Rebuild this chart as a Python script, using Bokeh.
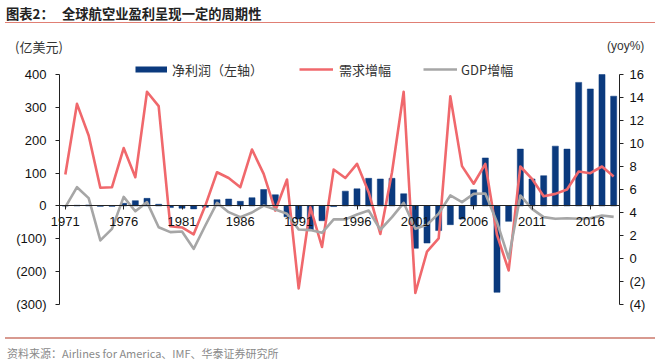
from bokeh.plotting import figure
from bokeh.layouts import column
from bokeh.models import (Range1d, LinearAxis, FixedTicker, Legend,
                          LegendItem, ColumnDataSource, Div)
from bokeh.embed import file_html
from bokeh.resources import INLINE

# ---------------- data ----------------
years = list(range(1971, 2019))
net_profit = [0, 2, 3, -1, -1, 8, 16, 23, 5, -5,
              -7, -9, -4, 19, 21, 14, 25, 50, 34, -33,
              -40, -75, -45, -2, 45, 52, 84, 82, 84, 37,
              -129, -113, -75, -57, -40, 49, 146, -263, -47, 173,
              82, 92, 182, 173, 376, 356, 400, 334]
demand_growth = [7.3, 13.45, 10.7, 6.15, 6.2, 9.6, 7.07, 14.5, 13.25, 2.8,
                 2.7, 2.1, 4.6, 7.5, 7.0, 6.2, 9.48, 7.36, 4.17, 6.87,
                 -2.6, 4.46, 1.0, 7.74, 7.0, 8.23, 5.77, 2.14, 7.5, 14.5,
                 -3.0, 0.6, 1.75, 14.1, 8.03, 6.5, 8.23, 2.05, -1.04, 8.0,
                 6.93, 5.42, 5.62, 6.0, 7.57, 7.42, 8.0, 7.13]
gdp_growth = [4.46, 6.2, 5.25, 1.57, 2.58, 5.36, 4.11, 4.9, 2.72, 2.29,
              2.35, 0.84, 2.87, 4.84, 4.03, 3.6, 4.0, 4.6, 4.26, 3.9,
              2.52, 2.47, 2.23, 3.4, 3.4, 3.83, 4.17, 2.5, 3.6, 4.84,
              2.58, 2.93, 3.9, 5.48, 4.9, 5.62, 5.65, 3.16, 0.0, 5.48,
              4.32, 3.6, 3.45, 3.5, 3.45, 3.5, 3.74, 3.62]
x_ticks = [1971, 1976, 1981, 1986, 1991, 1996, 2001, 2006, 2011, 2016]
left_ticks = [-300, -200, -100, 0, 100, 200, 300, 400]
right_ticks = [-4, -2, 0, 2, 4, 6, 8, 10, 12, 14, 16]

title_prefix = "图表2："
title_text = "全球航空业盈利呈现一定的周期性"
left_unit = "(亿美元)"
right_unit = "(yoy%)"
series_names = ["净利润（左轴）", "需求增幅", "GDP增幅"]
source_text = "资料来源：Airlines for America、IMF、华泰证券研究所"

# ---------------- style / layout ----------------
NAVY = "#0B3A7E"
RED = "#F0686C"
GRAY = "#A6A6A6"
SALMON = "#E07F74"
CJK = "Noto Sans CJK SC"
LAT = "Liberation Sans"

W = 660
TOP_H = 56          # header block height
FRAME_L, FRAME_R = 59, 619
FRAME_T, FRAME_B = 74, 304     # where 400 / -300 sit on the page
BOT_BORDER = 27
FIG_H = FRAME_B + BOT_BORDER - TOP_H
BOT_H = 362 - TOP_H - FIG_H
ZERO_Y = 205.3                 # page y of the zero line

L_MIN, L_MAX = -300, 400
R_MIN, R_MAX = -4, 16
px_per_l = (FRAME_B - FRAME_T) / (L_MAX - L_MIN)
px_per_r = (FRAME_B - FRAME_T) / (R_MAX - R_MIN)
extra_px = FRAME_T - TOP_H     # frame extends up to the header for the legend


def nfmt(v):
    return f"({abs(v)})" if v < 0 else f"{v}"


src = ColumnDataSource(dict(year=years, profit=net_profit,
                            demand=demand_growth, gdp=gdp_growth))

p = figure(width=W, height=FIG_H, output_backend="svg", toolbar_location=None,
           x_range=Range1d(1970.5, 2018.5),
           y_range=Range1d(L_MIN, L_MAX + extra_px / px_per_l),
           min_border_left=FRAME_L, min_border_right=W - FRAME_R,
           min_border_top=0, min_border_bottom=BOT_BORDER,
           background_fill_color="white", border_fill_color="white",
           margin=0)
p.outline_line_color = None
p.xgrid.visible = False
p.ygrid.visible = False
p.extra_y_ranges = {"r": Range1d(R_MIN, R_MAX + extra_px / px_per_r)}


def style_axis(ax, standoff):
    ax.minor_tick_line_color = None
    ax.major_tick_in = 0
    ax.major_tick_out = 4
    ax.major_label_standoff = standoff
    ax.axis_line_color = "#222222"
    ax.major_tick_line_color = "#222222"
    ax.major_label_text_font = LAT
    ax.major_label_text_font_size = "13px"
    ax.major_label_text_color = "#111111"


# x axis labels: a normal bottom axis whose labels are lifted up to the zero line
xa = p.xaxis[0]
xa.ticker = FixedTicker(ticks=x_ticks)
style_axis(xa, 0)
xa.axis_line_color = None
xa.major_tick_line_color = None
xa.major_tick_out = 0
xa.major_label_standoff = int(round(ZERO_Y + 11 - FRAME_B))

# zero line with its ticks (no labels)
xz = LinearAxis(ticker=FixedTicker(ticks=x_ticks), fixed_location=0)
style_axis(xz, 0)
xz.major_label_text_font_size = "1px"
xz.major_label_text_color = None
p.add_layout(xz, "below")

# left axis
ya = p.yaxis[0]
ya.ticker = FixedTicker(ticks=left_ticks)
ya.major_label_overrides = {v: nfmt(v) for v in left_ticks}
ya.bounds = (L_MIN, L_MAX)
style_axis(ya, 9)

# right axis
ra = LinearAxis(y_range_name="r", ticker=FixedTicker(ticks=right_ticks),
                bounds=(R_MIN, R_MAX))
ra.major_label_overrides = {v: nfmt(v) for v in right_ticks}
style_axis(ra, 6)
p.add_layout(ra, "right")

# glyphs
bars = p.vbar(x="year", top="profit", width=0.52, source=src,
              fill_color=NAVY, line_color=NAVY, line_width=0.5)
r_red = p.line("year", "demand", source=src, y_range_name="r",
               line_color=RED, line_width=2.6, line_join="round")
r_gray = p.line("year", "gdp", source=src, y_range_name="r",
                line_color=GRAY, line_width=2.6, line_join="round")
# legend swatch for the bars (NaN values: nothing is drawn in the plot)
swatch = p.line(x=years[:2], y=[float("nan")] * 2, line_color=NAVY,
                line_width=6)

# legends (one per item to match the reference spacing)
LEG_H = 20
leg_vy = FRAME_B - (69 + LEG_H / 2)


def add_legend(name, rend, page_x, gw, standoff):
    lg = Legend(items=[LegendItem(label=name, renderers=[rend])],
                location=(page_x - FRAME_L, leg_vy), glyph_width=gw,
                glyph_height=LEG_H, label_height=LEG_H,
                label_standoff=standoff, padding=0, margin=0, spacing=0,
                border_line_color=None, background_fill_alpha=0,
                label_text_font=CJK, label_text_font_size="13px",
                label_text_color="#333333")
    p.add_layout(lg)


add_legend(series_names[0], swatch, 135, 32, 5)
add_legend(series_names[1], r_red, 299, 34, 6)
add_legend(series_names[2], r_gray, 423, 34, 4)

# header and footer blocks
span = "position:absolute;white-space:nowrap;"
top_html = f"""
<div style="position:relative;width:{W}px;height:{TOP_H}px;overflow:visible;font-family:'{CJK}';margin:0;padding:0;">
  <div style="position:absolute;left:5px;top:0px;width:650px;height:22px;margin:0;padding:0;box-sizing:content-box;border-bottom:1.6px solid {SALMON};">
    <span style="{span}left:1px;top:6px;font-size:13.3px;line-height:16px;font-weight:bold;color:#222;">{title_prefix}</span>
    <span style="{span}left:57px;top:6px;font-size:13.3px;line-height:16px;font-weight:bold;color:#222;">{title_text}</span>
  </div>
  <span style="{span}left:15px;top:38px;font-size:13px;line-height:18px;color:#333;">{left_unit}</span>
  <span style="{span}left:607px;top:37px;font-size:12px;line-height:18px;color:#333;font-family:'{LAT}';">{right_unit}</span>
</div>
"""
bot_top = 362 - BOT_H
bot_html = f"""
<div style="position:relative;width:{W}px;height:{BOT_H}px;overflow:visible;font-family:'{CJK}';margin:0;padding:0;">
  <div style="position:absolute;left:5px;width:650px;top:{337.3 - bot_top}px;height:2px;background:#D89A90;"></div>
  <span style="{span}left:7px;top:{346 - bot_top}px;font-size:11px;line-height:15px;color:#8A8A8A;">{source_text}</span>
</div>
"""
div_top = Div(text=top_html, width=W, height=TOP_H, margin=0)
div_bot = Div(text=bot_html, width=W, height=BOT_H, margin=0)

layout = column(div_top, p, div_bot, spacing=0, margin=0)

open("out.html", "w").write(file_html(layout, INLINE))
